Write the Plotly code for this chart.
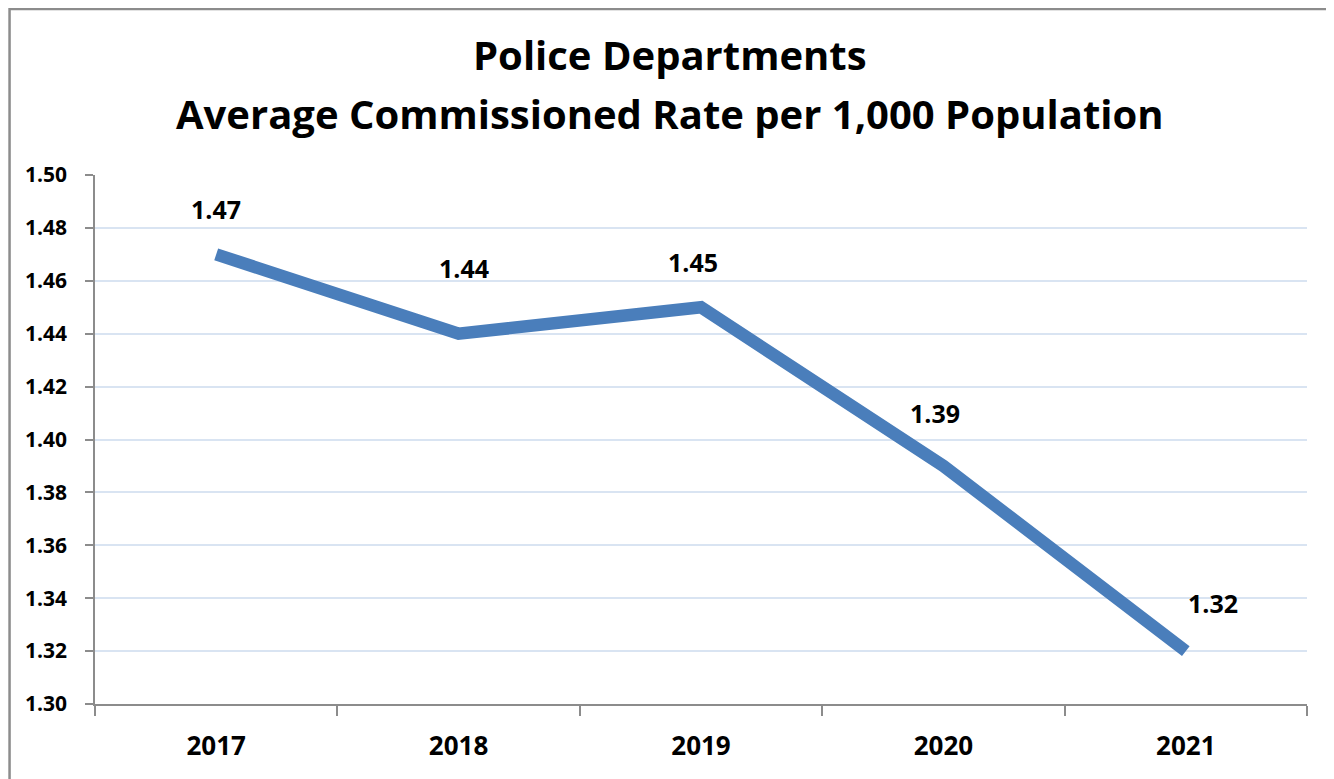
import plotly.graph_objects as go

years = ["2017", "2018", "2019", "2020", "2021"]
rates = [1.47, 1.44, 1.45, 1.39, 1.32]
y_ticks = [1.30, 1.32, 1.34, 1.36, 1.38, 1.40, 1.42, 1.44, 1.46, 1.48, 1.50]
title_lines = ["Police Departments", "Average Commissioned Rate per 1,000 Population"]

# label nudges (px) relative to each point
label_dx = [0, 5, -8, -8, 27]
label_dy = [45, 66, 45, 53, 48]

FONT = "Open Sans"

fig = go.Figure()
fig.add_trace(go.Scatter(
    x=years, y=rates, mode="lines",
    line=dict(color="#4A7EBB", width=12.5),
    hoverinfo="x+y", showlegend=False,
))

for i, v in enumerate(rates):
    fig.add_annotation(
        x=i, y=v, text=f"<b>{v:.2f}</b>", showarrow=False,
        xshift=label_dx[i], yshift=label_dy[i],
        font=dict(family=FONT, size=25, color="black"),
    )

for ty, line in zip([1.2287, 1.1172], title_lines):
    fig.add_annotation(
        xref="paper", yref="paper", x=0.4744, y=ty, text=f"<b>{line}</b>",
        showarrow=False, xanchor="center", yanchor="middle",
        font=dict(family=FONT, size=40, color="black"),
    )

# outer frame
fig.add_shape(type="rect", xref="paper", yref="paper",
              x0=-0.0705, x1=1.2, y0=-0.5, y1=1.3138,
              line=dict(color="#8C8C8C", width=2.5), layer="below")

fig.update_layout(
    width=1334, height=779,
    margin=dict(l=87, r=35, t=167, b=83),
    paper_bgcolor="white", plot_bgcolor="white",
    font=dict(family=FONT, color="black"),
    xaxis=dict(
        type="category", showgrid=False, showline=True, linecolor="#8C8C8C", linewidth=1.5,
        ticks="outside", tickson="boundaries", ticklen=10, tickcolor="#8C8C8C", tickwidth=1.5,
        tickfont=dict(family=FONT, size=26, color="black"),
        tickprefix="<b>", ticksuffix="</b>", ticklabelstandoff=18,
        range=[-0.5, 4.5], fixedrange=True,
    ),
    yaxis=dict(
        range=[1.30, 1.50], tickvals=y_ticks,
        ticktext=[f"<b>{t:.2f}</b>" for t in y_ticks],
        showgrid=True, gridcolor="#D9E4F2", gridwidth=1.5,
        showline=True, linecolor="#8C8C8C", linewidth=1.5,
        ticks="outside", ticklen=8, tickcolor="#8C8C8C", tickwidth=1.5,
        tickfont=dict(family=FONT, size=21, color="black"),
        zeroline=False, ticklabelstandoff=14,
    ),
)

fig.write_html("out.html")
